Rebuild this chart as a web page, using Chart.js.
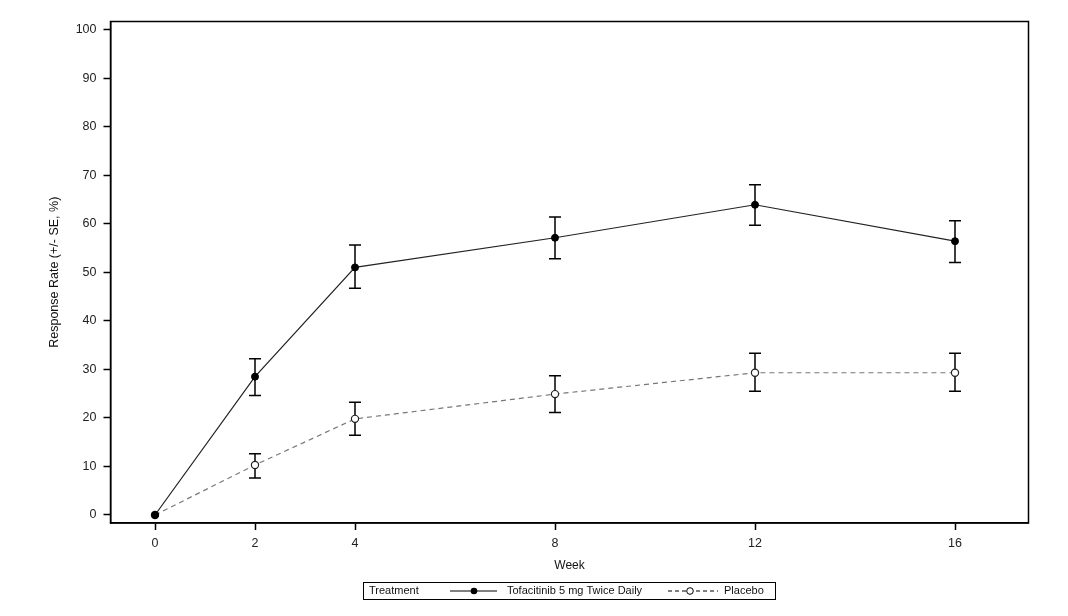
<!DOCTYPE html>
<html>
<head>
<meta charset="utf-8">
<script src="https://cdn.jsdelivr.net/npm/chart.js@4"></script>
<style>
  html, body { margin: 0; padding: 0; background: #fff; }
  #wrap { width: 1068px; height: 616px; }
</style>
</head>
<body>
<div id="wrap"><canvas id="c" width="1068" height="616"></canvas></div>
<script>
// ---- data ----
const weeks = [0, 2, 4, 8, 12, 16];
const weekTicks = [0, 2, 4, 8, 12, 16];
const yTicks = [0, 10, 20, 30, 40, 50, 60, 70, 80, 90, 100];

const tofaLabel = 'Tofacitinib 5 mg Twice Daily';
const tofaRate = [0, 28.5, 51.0, 57.1, 63.9, 56.4];
const tofaLow  = [null, 24.6, 46.7, 52.8, 59.7, 52.0];
const tofaHigh = [null, 32.2, 55.6, 61.4, 68.0, 60.6];

const placeboLabel = 'Placebo';
const placeboRate = [0, 10.3, 19.8, 24.9, 29.3, 29.3];
const placeboLow  = [null, 7.6, 16.4, 21.1, 25.5, 25.5];
const placeboHigh = [null, 12.6, 23.2, 28.7, 33.3, 33.3];

const legendTitle = 'Treatment';

const FONT = "'Liberation Sans', Arial, sans-serif";

function pts(xs, ys) { return xs.map((x, i) => ({ x: x, y: ys[i] })); }

const errorBars = {
  id: 'errorBars',
  beforeDatasetsDraw(chart) {
    const ctx = chart.ctx;
    const xs = chart.scales.x, ys = chart.scales.y;
    ctx.save();
    chart.data.datasets.forEach(ds => {
      if (!ds.errLow) return;
      ctx.strokeStyle = '#000';
      ctx.lineWidth = 1.5;
      ctx.setLineDash([]);
      ds.data.forEach((p, j) => {
        const lo = ds.errLow[j], hi = ds.errHigh[j];
        if (lo == null || hi == null) return;
        const px = xs.getPixelForValue(p.x);
        const pl = ys.getPixelForValue(lo);
        const ph = ys.getPixelForValue(hi);
        ctx.beginPath();
        ctx.moveTo(px, pl); ctx.lineTo(px, ph);
        ctx.moveTo(px - 6, pl); ctx.lineTo(px + 6, pl);
        ctx.moveTo(px - 6, ph); ctx.lineTo(px + 6, ph);
        ctx.stroke();
      });
    });
    ctx.restore();
  }
};

const frame = {
  id: 'frame',
  afterDraw(chart) {
    const a = chart.chartArea, ctx = chart.ctx;
    ctx.save();
    ctx.strokeStyle = '#000';
    ctx.lineWidth = 1.5;
    ctx.strokeRect(a.left, a.top, a.right - a.left, a.bottom - a.top);
    ctx.restore();
  }
};

const boxLegend = {
  id: 'boxLegend',
  afterDraw(chart) {
    const ctx = chart.ctx;
    const ds = chart.data.datasets;
    const cy = 591;
    ctx.save();
    ctx.strokeStyle = '#000';
    ctx.lineWidth = 1;
    ctx.strokeRect(363.5, 582.5, 412, 17);
    ctx.font = '11px ' + FONT;
    ctx.fillStyle = '#111';
    ctx.textBaseline = 'middle';
    ctx.textAlign = 'left';
    ctx.fillText(legendTitle, 369, cy);
    // item 1
    ctx.strokeStyle = '#000';
    ctx.lineWidth = 1;
    ctx.setLineDash([]);
    ctx.beginPath(); ctx.moveTo(450, cy); ctx.lineTo(497, cy); ctx.stroke();
    ctx.beginPath(); ctx.arc(474, cy, 3.3, 0, Math.PI * 2);
    ctx.fillStyle = '#000'; ctx.fill();
    ctx.fillStyle = '#111';
    ctx.fillText(ds[0].label, 507, cy);
    // item 2
    ctx.setLineDash([4, 3]);
    ctx.beginPath(); ctx.moveTo(668, cy); ctx.lineTo(718, cy); ctx.stroke();
    ctx.setLineDash([]);
    ctx.beginPath(); ctx.arc(690, cy, 3.3, 0, Math.PI * 2);
    ctx.fillStyle = '#fff'; ctx.fill(); ctx.stroke();
    ctx.fillStyle = '#111';
    ctx.fillText(ds[1].label, 724, cy);
    ctx.restore();
  }
};

new Chart(document.getElementById('c'), {
  type: 'line',
  data: {
    datasets: [
      {
        label: tofaLabel,
        data: pts(weeks, tofaRate),
        errLow: tofaLow, errHigh: tofaHigh,
        borderColor: '#222',
        borderWidth: 1.2,
        pointRadius: 3.5,
        pointBackgroundColor: '#000',
        pointBorderColor: '#000',
        pointBorderWidth: 1,
        tension: 0
      },
      {
        label: placeboLabel,
        data: pts(weeks, placeboRate),
        errLow: placeboLow, errHigh: placeboHigh,
        borderColor: '#777',
        borderWidth: 1.2,
        borderDash: [5, 4],
        pointRadius: 3.6,
        pointBackgroundColor: '#fff',
        pointBorderColor: '#222',
        pointBorderWidth: 1.2,
        tension: 0
      }
    ]
  },
  options: {
    responsive: false,
    animation: false,
    devicePixelRatio: 1,
    layout: { padding: { left: 0, top: 21.5, right: 39.5, bottom: 0 } },
    plugins: { legend: { display: false }, tooltip: { enabled: false } },
    scales: {
      x: {
        type: 'linear',
        min: -0.89, max: 17.47,
        afterBuildTicks: s => { s.ticks = weekTicks.map(v => ({ value: v })); },
        afterFit: s => { s.height = 93; },
        grid: { drawOnChartArea: false, drawTicks: true, tickLength: 7, tickColor: '#000', tickWidth: 1.5 },
        border: { display: true, color: '#000', width: 1.5 },
        ticks: { color: '#222', font: { family: FONT, size: 12.5 }, padding: 6, maxRotation: 0 },
        title: { display: true, text: 'Week', color: '#111', font: { family: FONT, size: 12 }, padding: { top: 0, bottom: 43 } }
      },
      y: {
        type: 'linear',
        min: -1.65, max: 101.65,
        afterBuildTicks: s => { s.ticks = yTicks.map(v => ({ value: v })); },
        afterFit: s => { s.width = 110.5; },
        grid: { drawOnChartArea: false, drawTicks: true, tickLength: 7, tickColor: '#000', tickWidth: 1.5 },
        border: { display: true, color: '#000', width: 1.5 },
        ticks: { color: '#222', font: { family: FONT, size: 12.5 }, padding: 7 },
        title: { display: true, text: 'Response Rate (+/- SE, %)', color: '#111', font: { family: FONT, size: 12.5 }, padding: { top: 47, bottom: 0 } }
      }
    }
  },
  plugins: [errorBars, frame, boxLegend]
});
</script>
</body>
</html>
